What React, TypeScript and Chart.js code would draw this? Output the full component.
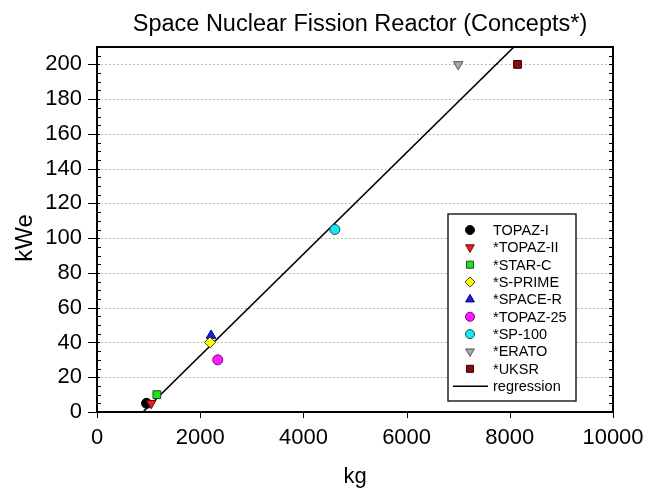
import React, { useEffect, useRef } from 'react';
import { Chart, registerables } from 'chart.js';
import { drawPoint } from 'chart.js/helpers';

Chart.register(...registerables);

// ---- data ----
const reactorNames = ['TOPAZ-I', '*TOPAZ-II', '*STAR-C', '*S-PRIME', '*SPACE-R', '*TOPAZ-25', '*SP-100', '*ERATO', '*UKSR'];
const massKg = [960, 1050, 1160, 2190, 2210, 2340, 4610, 7000, 8150];
const powerKWe = [5, 5, 10, 40, 44, 30, 105, 200, 200];
const regressionKg = [890, 8080];
const regressionKWe = [0, 210];
const xTickValues = [0, 2000, 4000, 6000, 8000, 10000];
const yTickValues = [0, 20, 40, 60, 80, 100, 120, 140, 160, 180, 200];

// ---- styles ----
const FONT = '"Liberation Sans", Arial, Helvetica, sans-serif';
const markerStyles = [
  { style: 'circle', rot: 0, fill: '#000000', stroke: '#000000', r: 5, order: 2 },
  { style: 'triangle', rot: 180, fill: '#e81e1e', stroke: '#7a0000', r: 5.5, order: 1 },
  { style: 'rect', rot: 0, fill: '#22e022', stroke: '#1f4f1f', r: 5.5, order: 1 },
  { style: 'rectRot', rot: 0, fill: '#ffff00', stroke: '#4a4a00', r: 5.5, order: 0 },
  { style: 'triangle', rot: 0, fill: '#1a1aff', stroke: '#000070', r: 5.5, order: 1 },
  { style: 'circle', rot: 0, fill: '#ff1aff', stroke: '#800080', r: 5, order: 1 },
  { style: 'circle', rot: 0, fill: '#19e6ee', stroke: '#1a4f55', r: 5, order: 1 },
  { style: 'triangle', rot: 180, fill: '#a8a8a8', stroke: '#555555', r: 5.5, order: 1 },
  { style: 'rect', rot: 0, fill: '#8a0c0c', stroke: '#3a0000', r: 5.5, order: 1 },
];

const framePlugin = {
  id: 'framePlugin',
  beforeDatasetsDraw(chart: any) {
    const { ctx, chartArea } = chart;
    const y = chart.scales.y;
    ctx.save();
    ctx.strokeStyle = '#a6a6a6';
    ctx.lineWidth = 1;
    ctx.setLineDash([1.5, 2.5]);
    yTickValues.forEach((v) => {
      if (v === 0) return;
      const py = Math.round(y.getPixelForValue(v)) + 0.5;
      ctx.beginPath();
      ctx.moveTo(chartArea.left, py);
      ctx.lineTo(chartArea.right, py);
      ctx.stroke();
    });
    ctx.restore();
  },
  afterDatasetsDraw(chart: any) {
    const { ctx, chartArea } = chart;
    const { left, right, top, bottom } = chartArea;
    const x = chart.scales.x;
    const y = chart.scales.y;
    ctx.save();
    ctx.setLineDash([]);
    ctx.strokeStyle = '#000';
    ctx.lineWidth = 1;
    for (let v = 0; v <= 210; v += 5) {
      const py = Math.round(y.getPixelForValue(v)) + 0.5;
      const major = v % 20 === 0 && v <= 200;
      ctx.beginPath();
      if (major) {
        ctx.moveTo(left - 9, py);
        ctx.lineTo(left + 3, py);
      } else {
        ctx.moveTo(left, py);
        ctx.lineTo(left + 4, py);
      }
      ctx.moveTo(right, py);
      ctx.lineTo(right - 4, py);
      ctx.stroke();
    }
    xTickValues.forEach((v) => {
      const px = Math.round(x.getPixelForValue(v)) + 0.5;
      ctx.beginPath();
      ctx.moveTo(px, bottom);
      ctx.lineTo(px, bottom + 6);
      ctx.stroke();
    });
    ctx.lineWidth = 2;
    ctx.strokeRect(left, top, right - left, bottom - top);

    // legend
    const lx = 448, ly = 214, lw = 128, lh = 187;
    ctx.fillStyle = '#fff';
    ctx.fillRect(lx, ly, lw, lh);
    ctx.lineWidth = 1.5;
    ctx.strokeStyle = '#222';
    ctx.strokeRect(lx, ly, lw, lh);
    ctx.font = `14.5px ${FONT}`;
    ctx.textBaseline = 'middle';
    ctx.textAlign = 'left';
    const rowH = 17.35;
    reactorNames.forEach((name, i) => {
      const m = markerStyles[i];
      const cy = 230 + i * rowH;
      ctx.fillStyle = m.fill;
      ctx.strokeStyle = m.stroke;
      ctx.lineWidth = 1;
      drawPoint(ctx, { pointStyle: m.style, rotation: m.rot, radius: m.r - 0.5, borderWidth: 1 } as any, 470, cy);
      ctx.fillStyle = '#000';
      ctx.fillText(name, 493, cy + 1);
    });
    const ry = 230 + 9 * rowH;
    ctx.strokeStyle = '#000';
    ctx.lineWidth = 1.5;
    ctx.beginPath();
    ctx.moveTo(453, ry);
    ctx.lineTo(488, ry);
    ctx.stroke();
    ctx.fillStyle = '#000';
    ctx.fillText('regression', 493, ry + 1);

    // titles
    ctx.fillStyle = '#000';
    ctx.textAlign = 'center';
    ctx.textBaseline = 'alphabetic';
    ctx.font = `23.5px ${FONT}`;
    ctx.fillText('Space Nuclear Fission Reactor (Concepts*)', 360, 31);
    ctx.font = `22px ${FONT}`;
    ctx.fillText('kg', 355, 483);
    ctx.save();
    ctx.translate(32, 238);
    ctx.rotate(-Math.PI / 2);
    ctx.font = `24px ${FONT}`;
    ctx.fillText('kWe', 0, 0);
    ctx.restore();
    ctx.restore();
  },
};

export default function App() {
  const canvasRef = useRef<HTMLCanvasElement | null>(null);

  useEffect(() => {
    document.body.style.margin = '0';
    const canvas = canvasRef.current;
    if (!canvas) return;
    const datasets: any[] = reactorNames.map((name, i) => {
      const m = markerStyles[i];
      return {
        label: name,
        data: [{ x: massKg[i], y: powerKWe[i] }],
        pointStyle: m.style,
        rotation: m.rot,
        pointRadius: m.r,
        backgroundColor: m.fill,
        borderColor: m.stroke,
        borderWidth: 1,
        order: m.order,
      };
    });
    datasets.push({
      label: 'regression',
      data: regressionKg.map((v, i) => ({ x: v, y: regressionKWe[i] })),
      showLine: true,
      pointRadius: 0,
      borderColor: '#000',
      borderWidth: 1.6,
      backgroundColor: '#000',
      order: 5,
    });

    const tickFont = { size: 22, family: FONT };
    const chart = new Chart(canvas, {
      type: 'scatter',
      data: { datasets },
      options: {
        animation: false,
        responsive: false,
        maintainAspectRatio: false,
        events: [],
        layout: { padding: { left: 0, top: 47, right: 37, bottom: 0 } },
        plugins: {
          legend: { display: false },
          title: { display: false },
          tooltip: { enabled: false },
        },
        scales: {
          x: {
            type: 'linear',
            min: 0,
            max: 10000,
            afterBuildTicks: (s: any) => {
              s.ticks = xTickValues.map((v) => ({ value: v }));
            },
            afterFit: (s: any) => {
              s.height = 76;
              s.paddingLeft = 0;
              s.paddingRight = 0;
            },
            grid: { display: false, drawTicks: false, tickLength: 0 },
            border: { display: false },
            ticks: {
              font: tickFont,
              color: '#000',
              padding: 13,
              maxRotation: 0,
              autoSkip: false,
              callback: (v: any) => String(v),
            },
          },
          y: {
            type: 'linear',
            min: 0,
            max: 210,
            afterBuildTicks: (s: any) => {
              s.ticks = yTickValues.map((v) => ({ value: v }));
            },
            afterFit: (s: any) => {
              s.width = 97;
              s.paddingTop = 0;
              s.paddingBottom = 0;
            },
            grid: { display: false, drawTicks: false, tickLength: 0 },
            border: { display: false },
            ticks: {
              font: tickFont,
              color: '#000',
              padding: 15,
              autoSkip: false,
              callback: (v: any) => String(v),
            },
          },
        },
      } as any,
      plugins: [framePlugin],
    });
    return () => chart.destroy();
  }, []);

  return (
    <div style={{ position: 'absolute', left: 0, top: 0, width: 650, height: 488 }}>
      <canvas ref={canvasRef} width={650} height={488} style={{ display: 'block' }} />
    </div>
  );
}
